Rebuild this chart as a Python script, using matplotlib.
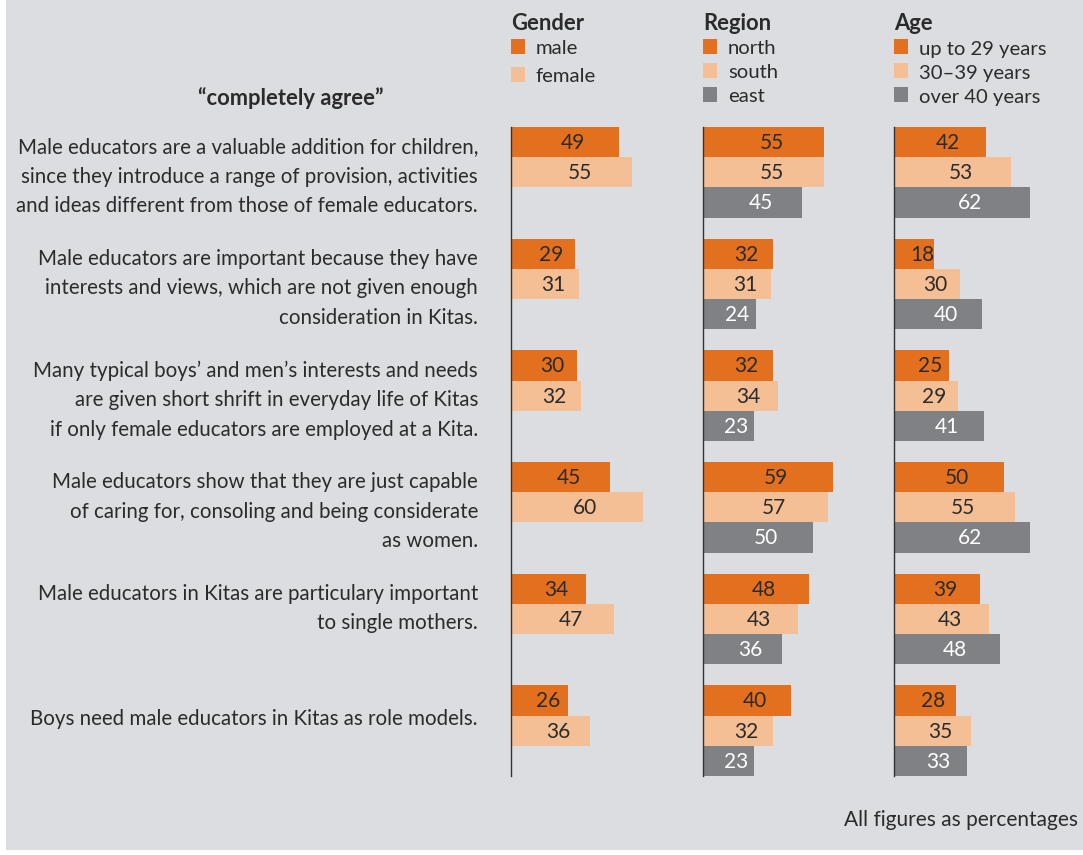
import matplotlib
matplotlib.use('Agg')
import matplotlib.pyplot as plt
import matplotlib.transforms as mtransforms
from matplotlib.patches import Rectangle
import numpy as np

plt.rcParams['font.family'] = ['Lato', 'DejaVu Sans']

statements = [
    ["Male educators are a valuable addition for children,",
     "since they introduce a range of provision, activities",
     "and ideas different from those of female educators."],
    ["Male educators are important because they have",
     "interests and views, which are not given enough",
     "consideration in Kitas."],
    ["Many typical boys\u2019 and men\u2019s interests and needs",
     "are given short shrift in everyday life of Kitas",
     "if only female educators are employed at a Kita."],
    ["Male educators show that they are just capable",
     "of caring for, consoling and being considerate",
     "as women."],
    ["Male educators in Kitas are particulary important",
     "to single mothers."],
    ["Boys need male educators in Kitas as role models."],
]

gender_names = ["male", "female"]
gender_male = [49, 29, 30, 45, 34, 26]
gender_female = [55, 31, 32, 60, 47, 36]

region_names = ["north", "south", "east"]
region_north = [55, 32, 32, 59, 48, 40]
region_south = [55, 31, 34, 57, 43, 32]
region_east = [45, 24, 23, 50, 36, 23]

age_names = ["up to 29 years", "30\u201339 years", "over 40 years"]
age_young = [42, 18, 25, 50, 39, 28]
age_mid = [53, 30, 29, 55, 43, 35]
age_old = [62, 40, 41, 62, 48, 33]

ORANGE = '#e3701e'
PEACH = '#f4bf95'
GREY = '#808184'
BG = '#dcdde0'
TEXT = '#2b2b2b'

W, H = 1083, 855
fig = plt.figure(figsize=(W / 100, H / 100), dpi=100, facecolor=BG)
# white margins like the scanned original
fig.patches.append(Rectangle((0, 0), 6 / W, 1, transform=fig.transFigure,
                             facecolor='white', edgecolor='none', zorder=0))
fig.patches.append(Rectangle((0, 0), 1, 5 / H, transform=fig.transFigure,
                             facecolor='white', edgecolor='none', zorder=0))


def fx(x):
    return x / W


def fy(y):
    return 1 - y / H


spacing = 3.7
n = len(statements)
tops = np.arange(n) * spacing
ymax = tops[-1] + 3
top_px, bottom_px = 127, 776
xmax = 80
width_px = xmax * 2.2

panels = [
    (511, "Gender", gender_names, [gender_male, gender_female], [ORANGE, PEACH]),
    (703, "Region", region_names, [region_north, region_south, region_east],
     [ORANGE, PEACH, GREY]),
    (894, "Age", age_names, [age_young, age_mid, age_old], [ORANGE, PEACH, GREY]),
]

axes = []
for left, title, names, series, colors in panels:
    ax = fig.add_axes([fx(left), fy(bottom_px), width_px / W,
                       (bottom_px - top_px) / H])
    ax.set_facecolor('none')
    for k, (vals, col) in enumerate(zip(series, colors)):
        ys = tops + k + 0.5
        ax.barh(ys, vals, height=1.0, color=col, edgecolor='none')
        tc = 'white' if col == GREY else TEXT
        for y, v in zip(ys, vals):
            ax.text(v / 2 - 1.8, y + 0.03, str(v), ha='left', va='center',
                    fontsize=15, color=tc)
    ax.set_xlim(0, xmax)
    ax.set_ylim(ymax, 0)
    for s in ['top', 'right', 'bottom']:
        ax.spines[s].set_visible(False)
    ax.spines['left'].set_color('#333333')
    ax.spines['left'].set_linewidth(1.0)
    ax.set_xticks([])
    ax.set_yticks([])
    axes.append(ax)

    # legend block
    fig.text(fx(left), fy(24), title, fontsize=15.8, fontweight='bold',
             color=TEXT, ha='left', va='center')
    step = 28 if len(names) == 2 else 24
    for k, (nm, col) in enumerate(zip(names, colors)):
        yc = 47 + k * step
        fig.patches.append(Rectangle((fx(left), fy(yc + 7.5)), 14 / W, 15 / H,
                                     transform=fig.transFigure, facecolor=col,
                                     edgecolor='none'))
        fig.text(fx(left + 25), fy(yc + 2), nm, fontsize=14.6, color=TEXT,
                 ha='left', va='center')

# statement labels
unit_px = (bottom_px - top_px) / ymax
trans = mtransforms.blended_transform_factory(fig.transFigure, axes[0].transData)
for top, lines in zip(tops, statements):
    if len(lines) == 1:
        first = top + 34 / unit_px
    else:
        first = top + 20 / unit_px
    for i, line in enumerate(lines):
        fig.text(fx(478), first + i * 29.7 / unit_px, line, transform=trans,
                 ha='right', va='center', fontsize=14.8, color=TEXT)

fig.text(fx(291), fy(98), "\u201ccompletely agree\u201d", fontsize=15.8,
         fontweight='bold', color=TEXT, ha='center', va='center')
fig.text(fx(1078), fy(820), "All figures as percentages", fontsize=15,
         color=TEXT, ha='right', va='center')

fig.savefig('out.png', dpi=100, facecolor=BG)
